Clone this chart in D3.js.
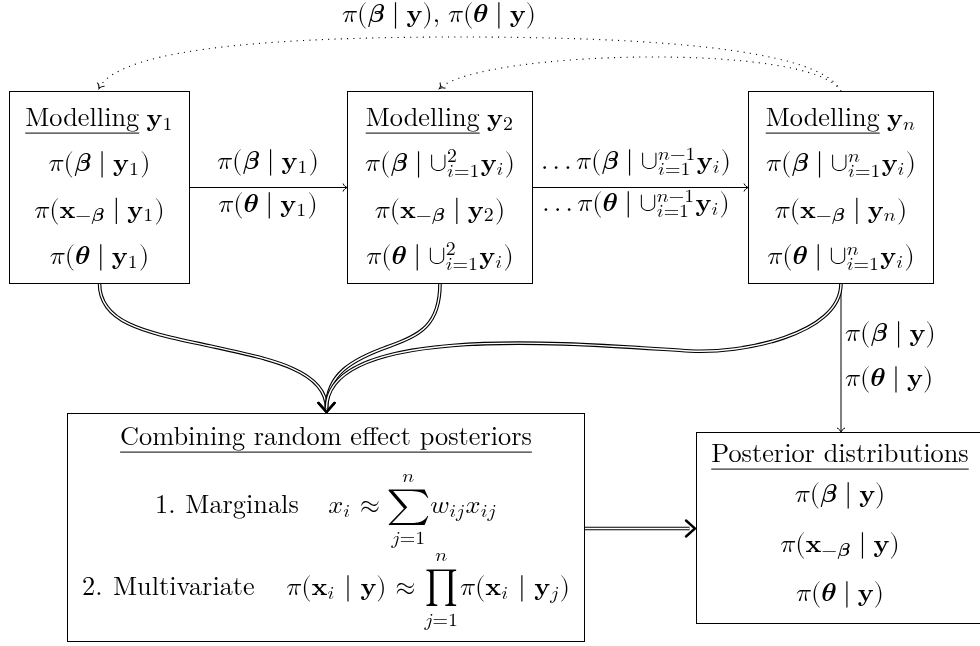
<!DOCTYPE html>
<html><head><meta charset="utf-8">
<script src="https://cdn.jsdelivr.net/npm/d3@7"></script>
<style>html,body{margin:0;padding:0;background:#fff;} svg{display:block}</style>
</head><body>
<svg id="c" width="980" height="646"></svg>
<script>
// ---------------- data (text content only) ----------------
const boxIds = ["m1", "m2", "mn", "comb", "post"];
const boxTitles = [
  "\\u{Modelling} \\bf{y}_{1}",
  "\\u{Modelling} \\bf{y}_{2}",
  "\\u{Modelling} \\bf{y}_{n}",
  "\\u{Combining random effect posteriors}",
  "\\u{Posterior distributions}"
];
const boxRows = [
  ["π(\\bi{β} | \\bf{y}_{1})", "π(\\bf{x}_{−\\bi{β}} | \\bf{y}_{1})", "π(\\bi{θ} | \\bf{y}_{1})"],
  ["π(\\bi{β} | ∪^{2}_{i=1}\\bf{y}_{i})", "π(\\bf{x}_{−\\bi{β}} | \\bf{y}_{2})", "π(\\bi{θ} | ∪^{2}_{i=1}\\bf{y}_{i})"],
  ["π(\\bi{β} | ∪^{n}_{i=1}\\bf{y}_{i})", "π(\\bf{x}_{−\\bi{β}} | \\bf{y}_{n})", "π(\\bi{θ} | ∪^{n}_{i=1}\\bf{y}_{i})"],
  ["\\t{1. Marginals}\\q x_{i} ≈ \\op{Σ}_{j=1}^{n}w_{ij}x_{ij}",
   "\\t{2. Multivariate}\\q π(\\bf{x}_{i} | \\bf{y}) ≈ \\op{Π}_{j=1}^{n}π(\\bf{x}_{i} | \\bf{y}_{j})"],
  ["π(\\bi{β} | \\bf{y})", "π(\\bf{x}_{−\\bi{β}} | \\bf{y})", "π(\\bi{θ} | \\bf{y})"]
];
// edges: [from, to, kind]
const edges = [
  ["m1", "m2", "single"],
  ["m2", "mn", "single"],
  ["mn", "post", "single"],
  ["m1", "comb", "double"],
  ["m2", "comb", "double"],
  ["mn", "comb", "double"],
  ["comb", "post", "double"],
  ["mn", "m2", "dotted"],
  ["mn", "m1", "dotted"]
];
const edgeLabels = {
  "m1-m2": ["π(\\bi{β} | \\bf{y}_{1})", "π(\\bi{θ} | \\bf{y}_{1})"],
  "m2-mn": ["\\ld π(\\bi{β} | ∪^{n−1}_{i=1}\\bf{y}_{i})", "\\ld π(\\bi{θ} | ∪^{n−1}_{i=1}\\bf{y}_{i})"],
  "mn-post": ["π(\\bi{β} | \\bf{y})", "π(\\bi{θ} | \\bf{y})"],
  "mn-m1": ["π(\\bi{β} | \\bf{y}),\\s π(\\bi{θ} | \\bf{y})"]
};

// ---------------- fonts ----------------
function fontAvailable(name) {
  const c = document.createElement("canvas").getContext("2d");
  const s = "mmmmmmmmmmlli10OWπβθ∑∏\u{1D70B}";
  let diff = false;
  ["monospace", "sans-serif"].forEach(base => {
    c.font = `40px ${base}`; const a = c.measureText(s).width;
    c.font = `40px '${name}', ${base}`; const b = c.measureText(s).width;
    if (Math.abs(a - b) > 0.5) diff = true;
  });
  return diff;
}
const HAS_LMM = fontAvailable("Latin Modern Math");
const RMF = "'Latin Modern Roman','Liberation Serif',serif";
const LMMF = "'Latin Modern Math','Latin Modern Roman','Liberation Serif',serif";
const GRF = "'Liberation Serif',serif";

function fontSpec(st) {
  if (st === "rm") return {fam: RMF, style: "normal", weight: "normal"};
  if (HAS_LMM) return {fam: LMMF, style: "normal", weight: "normal"};
  if (st === "mrm") return {fam: RMF, style: "normal", weight: "normal"};
  if (st === "it") return {fam: RMF, style: "italic", weight: "normal"};
  if (st === "bf") return {fam: RMF, style: "normal", weight: "bold"};
  return {fam: GRF, style: "italic", weight: "bold"};
}
function mapText(text, st) {
  if (!HAS_LMM || st === "rm") return text;
  return Array.from(text).map(ch => {
    const c = ch.codePointAt(0);
    if (st === "it") {
      if (c >= 97 && c <= 122) return c === 104 ? "\u210E" : String.fromCodePoint(0x1D44E + c - 97);
      if (c >= 0x3B1 && c <= 0x3C9) return String.fromCodePoint(0x1D6FC + c - 0x3B1);
    }
    if (st === "bf" && c >= 97 && c <= 122) return String.fromCodePoint(0x1D41A + c - 97);
    if (st === "bi" && c >= 0x3B1 && c <= 0x3C9) return String.fromCodePoint(0x1D736 + c - 0x3B1);
    return ch;
  }).join("");
}

// ---------------- layout / style ----------------
const FS = 26.3;
const OPS = {
  "Σ": {glyph: HAS_LMM ? "∑" : "Σ", fam: HAS_LMM ? LMMF : GRF, w: 1.52, h: 1.33, c: -0.21},
  "Π": {glyph: HAS_LMM ? "∏" : "Π", fam: HAS_LMM ? LMMF : GRF, w: 1.14, h: 1.41, c: -0.25}
};
const geom = {
  m1:   {x0: 9.5,  x1: 189.5, y0: 91.5,  y1: 283.5, title: 126, rows: [171, 217.5, 264]},
  m2:   {x0: 347.5, x1: 532.5, y0: 91.5, y1: 283.5, title: 126, rows: [171, 217.5, 264]},
  mn:   {x0: 748.5, x1: 933.5, y0: 91.5, y1: 283.5, title: 126, rows: [171, 217.5, 264]},
  comb: {x0: 67.5,  x1: 584.5, y0: 413.5, y1: 641.5, title: 445, rows: [513, 595], rowW: [342, 488]},
  post: {x0: 696.5, x1: 984.5, y0: 432.5, y1: 623.5, title: 462, rows: [502, 552, 601], cx: 840}
};
const labelPos = {
  "m1-m2": {x: 268, ys: [169, 212], anchor: "middle"},
  "m2-mn": {x: 636, ys: [169, 211], anchor: "middle"},
  "mn-post": {x: 845, ys: [341, 386], anchor: "start"},
  "mn-m1": {x: 439, ys: [22], anchor: "middle"}
};

const svg = d3.select("#c");
svg.append("rect").attr("width", 980).attr("height", 646).attr("fill", "#fff");

// ---------- tiny math-markup parser ----------
function parse(s, mode, forced) {
  const out = []; let i = 0;
  const pushChar = ch => {
    let st;
    if (mode === "t") st = "rm";
    else if (forced && /[A-Za-z\u03B1-\u03C9]/.test(ch)) st = forced;
    else st = /[A-Za-z\u03B1-\u03C9]/.test(ch) ? "it" : "mrm";
    const last = out[out.length - 1];
    if (last && last.type === "text" && last.st === st) last.text += ch;
    else out.push({type: "text", text: ch, st});
  };
  const group = () => {
    if (s[i] !== "{") return s[i++];
    let d = 0; const st = i;
    for (; i < s.length; i++) {
      if (s[i] === "{") d++;
      else if (s[i] === "}") { d--; if (d === 0) { i++; return s.slice(st + 1, i - 1); } }
    }
    return s.slice(st + 1);
  };
  while (i < s.length) {
    const c = s[i];
    if (c === "\\") {
      let j = i + 1; while (j < s.length && /[a-z]/.test(s[j])) j++;
      const cmd = s.slice(i + 1, j); i = j;
      if (cmd === "q" || cmd === "s" || cmd === "ld") {
        if (cmd === "ld") {
          for (let k = 0; k < 3; k++) { out.push({type: "text", text: ".", st: "mrm"}); out.push({type: "space", em: 0.167, fixed: true}); }
        } else out.push({type: "space", em: cmd === "q" ? 1.0 : 0.3});
        if (s[i] === " ") i++;
        continue;
      }
      const arg = group();
      if (cmd === "t") out.push(...parse(arg, "t", null));
      else if (cmd === "u") out.push({type: "under", children: parse(arg, "t", null)});
      else if (cmd === "bf") out.push(...parse(arg, "m", "bf"));
      else if (cmd === "bi") out.push(...parse(arg, "m", "bi"));
      else if (cmd === "op") out.push({type: "op", text: arg});
    } else if (c === "_" || c === "^") {
      i++;
      const arg = parse(group(), "m", null);
      let target = out[out.length - 1];
      if (!target || (target.type !== "op" && target.type !== "scripts")) { target = {type: "scripts"}; out.push(target); }
      if (c === "_") target.sub = arg; else target.sup = arg;
    } else if (c === "|") {
      out.push({type: "bar"}); i++;
    } else if (c === " ") {
      out.push({type: "space", em: mode === "t" ? 0.333 : 0.278}); i++;
    } else { pushChar(c); i++; }
  }
  return out;
}

const meas = svg.append("text").attr("visibility", "hidden");
function isScript(fs) { return fs < FS * 0.9; }
function measure(text, st, fs) {
  const f = fontSpec(st);
  meas.attr("font-family", f.fam).attr("font-size", fs).attr("font-style", f.style)
      .attr("font-weight", f.weight)
      .style("font-feature-settings", isScript(fs) && HAS_LMM ? '"ssty" 1' : "normal")
      .text(mapText(text, st));
  return meas.node().getComputedTextLength();
}
// script-size glyphs: use the font's optical 'ssty' variants if they exist, else widen slightly
const SCRIPT_SX = (() => {
  if (!HAS_LMM) return 1.08;
  const probe = "i=1jn";
  meas.attr("font-family", LMMF).attr("font-size", 40).style("font-feature-settings", "normal").text(mapText(probe, "it"));
  const a = meas.node().getComputedTextLength();
  meas.style("font-feature-settings", '"ssty" 1');
  const b = meas.node().getComputedTextLength();
  return Math.abs(a - b) > 0.5 ? 1 : 1.08;
})();

const ctx = document.createElement("canvas").getContext("2d");
function inkMetrics(glyph, fam) {
  ctx.font = `100px ${fam}`;
  const m = ctx.measureText(glyph);
  return {l: m.actualBoundingBoxLeft, r: m.actualBoundingBoxRight,
          a: m.actualBoundingBoxAscent, d: m.actualBoundingBoxDescent};
}

function lay(nodes, fs, spaceK) {
  spaceK = spaceK || 1;
  let x = 0, spaceTotal = 0; const items = [];
  const add = (L, dx, dy) => L.items.forEach(it => {
    const c = Object.assign({}, it);
    if (c.kind === "line") { c.x1 += dx; c.x2 += dx; c.y1 += dy; c.y2 += dy; } else { c.x += dx; c.y += dy; }
    items.push(c);
  });
  for (const n of nodes) {
    if (n.type === "text") {
      const sx = isScript(fs) ? SCRIPT_SX : 1;
      const w = measure(n.text, n.st, fs) * sx;
      items.push({kind: "t", x, y: 0, text: n.text, st: n.st, fs, sx}); x += w;
    } else if (n.type === "space") {
      const w = n.em * fs * (n.fixed ? 1 : spaceK);
      if (!n.fixed) spaceTotal += n.em * fs;
      x += w;
    } else if (n.type === "bar") {
      const w = 0.278 * fs;
      items.push({kind: "line", x1: x + w / 2, x2: x + w / 2, y1: -0.75 * fs, y2: 0.25 * fs, sw: 0.045 * fs});
      x += w;
    } else if (n.type === "scripts") {
      const sfs = fs * 0.7; let w = 0; const both = n.sub && n.sup;
      if (n.sup) { const L = lay(n.sup, sfs); add(L, x, -0.36 * fs); w = Math.max(w, L.w); }
      if (n.sub) { const L = lay(n.sub, sfs); add(L, x, both ? 0.24 * fs : 0.15 * fs); w = Math.max(w, L.w); }
      x += w + 0.05 * fs;
    } else if (n.type === "op") {
      const spec = OPS[n.text];
      const m = inkMetrics(spec.glyph, spec.fam);
      const ofs = 100 * spec.h * fs / (m.a + m.d);
      const s = ofs / 100;
      const sx = spec.w * fs / ((m.l + m.r) * s);
      const ow = spec.w * fs;
      const top = spec.c * fs - spec.h * fs / 2, bottom = spec.c * fs + spec.h * fs / 2;
      const base = bottom - m.d * s;
      const sfs = fs * 0.7;
      const supL = n.sup ? lay(n.sup, sfs) : null, subL = n.sub ? lay(n.sub, sfs) : null;
      const W = Math.max(ow, supL ? supL.w : 0, subL ? subL.w : 0);
      const inkX = x + (W - ow) / 2;
      items.push({kind: "op", x: inkX + m.l * s * sx, y: base, text: spec.glyph, fam: spec.fam, fs: ofs, sx});
      if (supL) add(supL, x + (W - supL.w) / 2, top - 0.32 * fs);
      if (subL) add(subL, x + (W - subL.w) / 2, bottom + 0.74 * fs);
      x += W + 0.08 * fs;
    } else if (n.type === "under") {
      const L = lay(n.children, fs);
      add(L, x, 0);
      items.push({kind: "line", x1: x, x2: x + L.w, y1: 0.27 * fs, y2: 0.27 * fs, sw: 1});
      x += L.w;
    }
  }
  return {w: x, items, spaceTotal};
}

const textLayer = svg.append("g").attr("fill", "#000").style("opacity", 0.999);
function drawMath(str, x, baseline, anchor, targetW) {
  const nodes = parse(str, "m", null);
  let L = lay(nodes, FS);
  if (targetW && L.spaceTotal > 0) {
    const k = Math.max(0.6, Math.min(2.5, 1 + (targetW - L.w) / L.spaceTotal));
    L = lay(nodes, FS, k);
  }
  const x0 = anchor === "start" ? x : x - L.w / 2;
  const g = textLayer.append("g").attr("transform", `translate(${x0},${baseline})`);
  for (const it of L.items) {
    if (it.kind === "t") {
      const f = fontSpec(it.st);
      const t = g.append("text").attr("font-size", it.fs)
        .attr("font-family", f.fam).attr("font-style", f.style).attr("font-weight", f.weight)
        .style("font-feature-settings", isScript(it.fs) && HAS_LMM ? '"ssty" 1' : "normal")
        .text(mapText(it.text, it.st));
      if (it.sx !== 1) t.attr("transform", `translate(${it.x},${it.y}) scale(${it.sx},1)`);
      else t.attr("x", it.x).attr("y", it.y);
    } else if (it.kind === "op") {
      g.append("text").attr("transform", `translate(${it.x},${it.y}) scale(${it.sx},1)`)
        .attr("font-family", it.fam).attr("font-size", it.fs).text(it.text);
    } else if (it.kind === "line") {
      g.append("line").attr("x1", it.x1).attr("x2", it.x2).attr("y1", it.y1).attr("y2", it.y2)
        .attr("stroke", "#000").attr("stroke-width", it.sw);
    }
  }
}

// ---------- edges ----------
const edgeLayer = svg.append("g").attr("fill", "none");
const cx = id => geom[id].cx !== undefined ? geom[id].cx : (geom[id].x0 + geom[id].x1) / 2;

function tip(x, y, angleDeg, kind) {
  const g = edgeLayer.append("g").attr("transform", `translate(${x},${y}) rotate(${angleDeg})`);
  if (kind === "double") {
    g.append("path").attr("d", "M-9,-8 L0,0 L-9,8").attr("stroke", "#000")
      .attr("stroke-width", 2.4).attr("stroke-linejoin", "miter").attr("stroke-linecap", "round");
  } else {
    g.append("path").attr("d", "M-4.5,-4 C-3.5,-1.5 -1.5,-0.4 0,0 C-1.5,0.4 -3.5,1.5 -4.5,4")
      .attr("stroke", "#000").attr("stroke-width", 1);
  }
}
const ang = (x0, y0, x1, y1) => Math.atan2(y1 - y0, x1 - x0) * 180 / Math.PI;

function edgePath(from, to, kind) {
  const a = geom[from], b = geom[to];
  const p = d3.path();
  let end, ctl;
  if (kind === "single") {
    if (to === "post") {
      const x = cx(from);
      p.moveTo(x, a.y1); p.lineTo(x, b.y0 - 0.5); end = [x, b.y0]; ctl = [x, a.y1];
    } else {
      const y = 187.5;
      p.moveTo(a.x1, y); p.lineTo(b.x0 - 0.5, y); end = [b.x0, y]; ctl = [a.x1, y];
    }
  } else if (kind === "double") {
    if (to === "post") {
      const y = 528.5;
      p.moveTo(a.x1, y); p.lineTo(b.x0 - 7, y); end = [b.x0 - 1.5, y]; ctl = [a.x1, y];
    } else {
      const sx = cx(from), ex = cx(to) + 0.5, ey = b.y0 - 5;
      p.moveTo(sx, a.y1);
      if (from === "m1") {
        p.bezierCurveTo(sx, 325, 150, 333, 210, 346);
        p.bezierCurveTo(270, 359, ex, 370, ex, ey);
      } else if (from === "m2") {
        p.bezierCurveTo(sx, 325, 420, 335, 390, 346);
        p.bezierCurveTo(350, 360, ex, 375, ex, ey);
      } else {
        p.bezierCurveTo(sx, 335, 740, 354, 690, 351);
        p.bezierCurveTo(590, 345, ex, 320, ex, ey);
      }
      end = [ex, b.y0 - 1.5]; ctl = [ex, ey - 10];
    }
  } else { // dotted
    const sx = cx(from), ex = cx(to) - 0.5, ey = b.y0 - 3;
    p.moveTo(sx, a.y0);
    if (to === "m1") {
      p.bezierCurveTo(820, 45, 620, 37, 460, 37);
      p.bezierCurveTo(300, 37, 120, 45, ex, ey);
      ctl = [120, 45];
    } else {
      p.bezierCurveTo(815, 42, 480, 50, ex, ey);
      ctl = [480, 50];
    }
    end = [ex, ey];
  }
  return {d: p.toString(), end, ctl};
}

edges.forEach(([from, to, kind]) => {
  const e = edgePath(from, to, kind);
  if (kind === "double") {
    edgeLayer.append("path").attr("d", e.d).attr("stroke", "#000").attr("stroke-width", 3.6);
    edgeLayer.append("path").attr("d", e.d).attr("stroke", "#fff").attr("stroke-width", 1.4);
  } else if (kind === "dotted") {
    edgeLayer.append("path").attr("d", e.d).attr("stroke", "#000").attr("stroke-width", 1.1)
      .attr("stroke-dasharray", "1.1 5.2");
  } else {
    edgeLayer.append("path").attr("d", e.d).attr("stroke", "#000").attr("stroke-width", 1);
  }
  tip(e.end[0], e.end[1], ang(e.ctl[0], e.ctl[1], e.end[0], e.end[1]), kind);
  const key = from + "-" + to;
  if (edgeLabels[key]) {
    const lp = labelPos[key];
    edgeLabels[key].forEach((s, k) => drawMath(s, lp.x, lp.ys[k], lp.anchor));
  }
});

// ---------- boxes ----------
boxIds.forEach((id, bi) => {
  const g = geom[id];
  svg.append("rect").attr("x", g.x0).attr("y", g.y0).attr("width", g.x1 - g.x0).attr("height", g.y1 - g.y0)
    .attr("fill", "none").attr("stroke", "#000").attr("stroke-width", 1);
  drawMath(boxTitles[bi], cx(id), g.title, "middle");
  boxRows[bi].forEach((s, k) => drawMath(s, cx(id), g.rows[k], "middle", g.rowW ? g.rowW[k] : null));
});
meas.remove();
</script>
</body></html>
